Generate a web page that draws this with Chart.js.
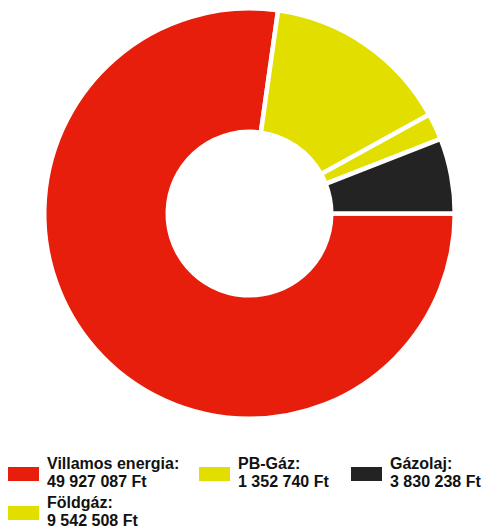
<!DOCTYPE html>
<html lang="hu">
<head>
    <meta charset="UTF-8">
    <title>Energia költségek</title>
    <script src="https://cdn.jsdelivr.net/npm/chart.js"></script>
    <style>
        body { margin: 0; background: #fff; font-family: "Liberation Sans", Arial, sans-serif; }
        .wrap { position: relative; width: 483px; height: 527px; overflow: hidden; }
        .chart-box { position: absolute; left: 0; top: 0; width: 483px; height: 440px; }
        .legend-swatch { position: absolute; width: 31px; height: 14px; }
        .legend-text { position: absolute; font-weight: bold; font-size: 16px; line-height: 18px; color: #111; white-space: nowrap; }
    </style>
</head>
<body>

<div class="wrap">
    <div class="chart-box">
        <canvas id="costChart"></canvas>
    </div>
    <div id="legend"></div>
</div>

<script>
// chart data
const labels = ['Villamos energia', 'Földgáz', 'PB-Gáz', 'Gázolaj'];
const values = [49927087, 9542508, 1352740, 3830238];
const colors = ['#e81e0c', '#e2df00', '#e2df00', '#232323'];

// legend order as in the picture (row by row)
const legendOrder = [0, 2, 3, 1];
const legendSlots = [
    { x: 8, y: 455 }, { x: 199, y: 455 }, { x: 351, y: 455 },
    { x: 8, y: 494 }
];

// format as "49 927 087 Ft"
function formatFt(v) {
    return String(v).replace(/\B(?=(\d{3})+(?!\d))/g, ' ') + ' Ft';
}

const ctx = document.getElementById('costChart').getContext('2d');
new Chart(ctx, {
    type: 'doughnut',
    data: {
        labels: labels,
        datasets: [{
            data: values,
            backgroundColor: colors,
            borderColor: '#ffffff',
            borderWidth: 4.5,
            borderJoinStyle: 'miter'
        }]
    },
    options: {
        responsive: true,
        maintainAspectRatio: false,
        animation: false,
        rotation: 90,
        cutout: 81.75,
        layout: { padding: { left: 42, right: 26, top: 6.1, bottom: 18.9 } },
        plugins: {
            legend: { display: false },
            tooltip: { enabled: false }
        }
    }
});

// html legend, two lines per item
const legendEl = document.getElementById('legend');
legendOrder.forEach((idx, i) => {
    const slot = legendSlots[i];
    const sw = document.createElement('div');
    sw.className = 'legend-swatch';
    sw.style.left = slot.x + 'px';
    sw.style.top = (slot.y + 12) + 'px';
    sw.style.background = colors[idx];
    legendEl.appendChild(sw);

    const txt = document.createElement('div');
    txt.className = 'legend-text';
    txt.style.left = (slot.x + 39) + 'px';
    txt.style.top = slot.y + 'px';
    txt.innerHTML = labels[idx] + ':<br>' + formatFt(values[idx]);
    legendEl.appendChild(txt);
});
</script>

</body>
</html>
